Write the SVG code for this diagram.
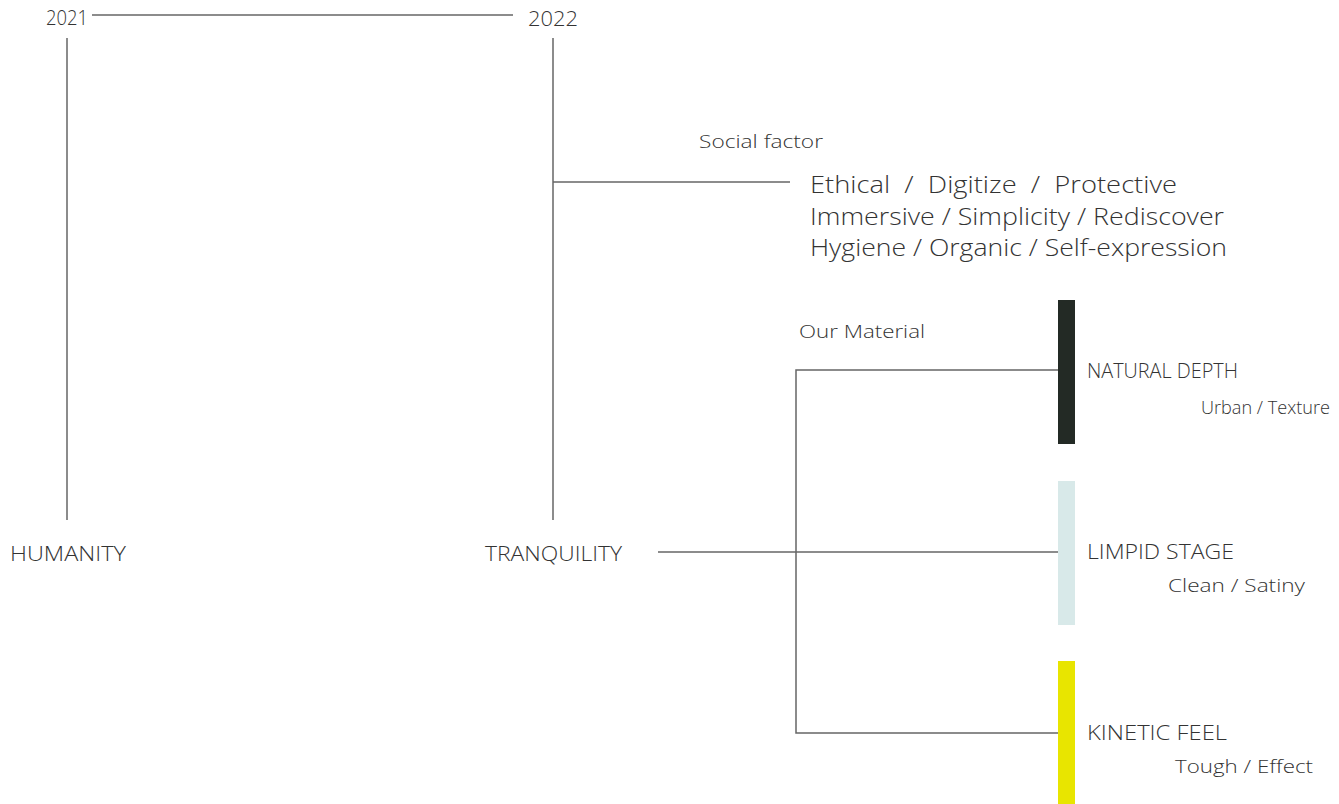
<svg xmlns="http://www.w3.org/2000/svg" width="1339" height="804" viewBox="0 0 1339 804">
<style>
text{font-family:"Open Sans",Lato,"Liberation Sans",sans-serif;font-weight:300;fill:#333}
.yr{font-size:19.5px}
.lbl{font-size:19.5px}
.big{font-size:23px}
.sub{font-size:18.5px}
.ln{stroke:#666;stroke-width:1.5;fill:none}
</style>
<rect width="1339" height="804" fill="#fff"/>
<g id="connectors">
<line class="ln" x1="92" y1="15" x2="513" y2="15"/>
<line class="ln" x1="67" y1="38" x2="67" y2="520"/>
<line class="ln" x1="553" y1="38" x2="553" y2="520"/>
<line class="ln" x1="553" y1="182" x2="790" y2="182"/>
<line class="ln" x1="658" y1="552" x2="1058" y2="552"/>
<path class="ln" d="M1058 370 H796 V733 H1058"/>
</g>
<g id="n2021"><text class="yr" x="46" y="25" textLength="42" lengthAdjust="spacingAndGlyphs">2021</text></g>
<g id="n2022"><text class="yr" x="528" y="26" textLength="50" lengthAdjust="spacingAndGlyphs">2022</text></g>
<g id="humanity"><text class="lbl" x="10" y="561" textLength="116" lengthAdjust="spacingAndGlyphs">HUMANITY</text></g>
<g id="tranquility"><text class="lbl" x="485" y="561" textLength="137" lengthAdjust="spacingAndGlyphs">TRANQUILITY</text></g>
<g id="social">
<text class="sub" x="699" y="148" font-size="17" textLength="124" lengthAdjust="spacingAndGlyphs">Social factor</text>
<text class="big" x="810" y="193" xml:space="preserve" textLength="367" lengthAdjust="spacingAndGlyphs">Ethical  /  Digitize  /  Protective</text>
<text class="big" x="810" y="225" textLength="414" lengthAdjust="spacingAndGlyphs">Immersive / Simplicity / Rediscover</text>
<text class="big" x="810" y="256" textLength="417" lengthAdjust="spacingAndGlyphs">Hygiene / Organic / Self-expression</text>
</g>
<g id="material"><text class="sub" x="799" y="338" textLength="126" lengthAdjust="spacingAndGlyphs">Our Material</text></g>
<g id="natural">
<rect x="1058" y="300" width="17" height="144" fill="#232a25"/>
<text class="lbl" x="1087" y="378" textLength="151" lengthAdjust="spacingAndGlyphs">NATURAL DEPTH</text>
<text class="sub" x="1201" y="414" textLength="129" lengthAdjust="spacingAndGlyphs">Urban / Texture</text>
</g>
<g id="limpid">
<rect x="1058" y="481" width="17" height="144" fill="#d8e9e9"/>
<text class="lbl" x="1087" y="559" textLength="147" lengthAdjust="spacingAndGlyphs">LIMPID STAGE</text>
<text class="sub" x="1168" y="592" textLength="137" lengthAdjust="spacingAndGlyphs">Clean / Satiny</text>
</g>
<g id="kinetic">
<rect x="1058" y="661" width="17" height="143" fill="#e8e500"/>
<text class="lbl" x="1087" y="740" textLength="140" lengthAdjust="spacingAndGlyphs">KINETIC FEEL</text>
<text class="sub" x="1175" y="773" textLength="138" lengthAdjust="spacingAndGlyphs">Tough / Effect</text>
</g>
</svg>
